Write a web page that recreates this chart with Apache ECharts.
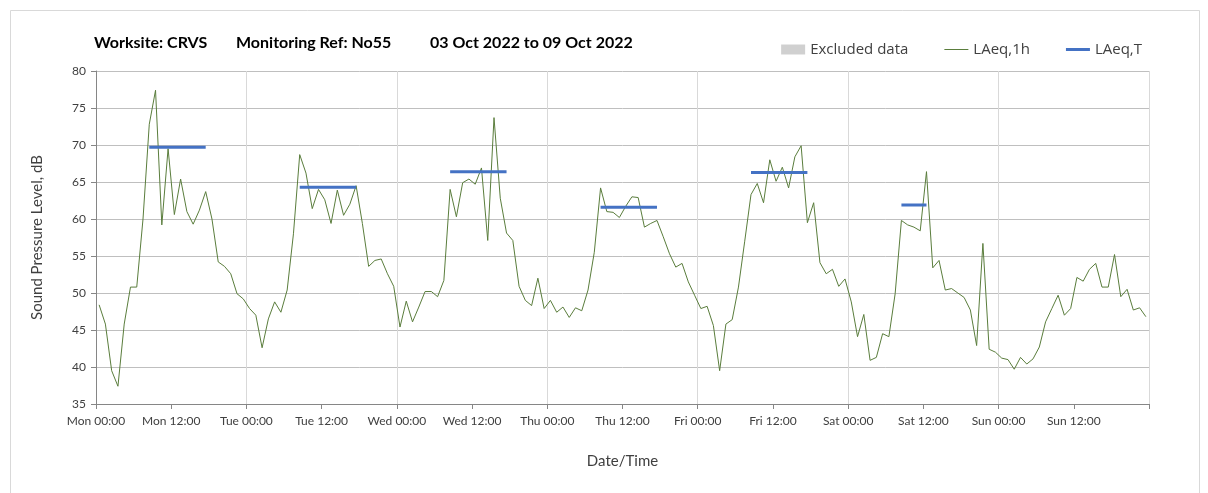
<!DOCTYPE html>
<html>
<head>
<meta charset="utf-8">
<script src="https://cdn.jsdelivr.net/npm/echarts@6/dist/echarts.min.js"></script>
<style>
  html, body { margin: 0; padding: 0; background: #fff; }
  #chart { width: 1208px; height: 493px; }
</style>
</head>
<body>
<div id="chart"></div>
<script>
// day names for the x axis (one week, hourly data)
const dayNames = ['Mon', 'Tue', 'Wed', 'Thu', 'Fri', 'Sat', 'Sun'];

// LAeq,1h values, one per hour from Mon 00:00 to Sun 23:00
const laeq1h = [
  // Mon
  48.4, 45.8, 39.5, 37.4, 45.8, 50.8, 50.8, 60.0, 72.8, 77.4, 59.2, 69.5,
  60.6, 65.4, 61.0, 59.3, 61.2, 63.7, 60.0, 54.2, 53.6, 52.6, 49.9, 49.2,
  // Tue
  47.9, 47.0, 42.6, 46.5, 48.8, 47.4, 50.4, 58.0, 68.7, 66.2, 61.4, 64.0,
  62.6, 59.4, 63.9, 60.5, 62.0, 64.5, 59.4, 53.6, 54.4, 54.6, 52.6, 50.9,
  // Wed
  45.4, 48.9, 46.1, 48.1, 50.2, 50.2, 49.5, 51.7, 64.0, 60.3, 64.9, 65.4,
  64.7, 66.9, 57.1, 73.7, 62.8, 58.1, 57.1, 50.9, 49.0, 48.3, 52.0, 47.9,
  // Thu
  49.0, 47.4, 48.1, 46.7, 48.0, 47.6, 50.4, 55.5, 64.2, 61.0, 60.9, 60.2,
  61.7, 63.0, 62.9, 58.9, 59.4, 59.8, 57.6, 55.3, 53.5, 54.0, 51.5, 49.7,
  // Fri
  47.9, 48.2, 45.6, 39.5, 45.8, 46.4, 50.8, 57.0, 63.3, 64.8, 62.2, 68.0,
  65.1, 67.0, 64.2, 68.4, 69.9, 59.5, 62.2, 54.1, 52.6, 53.2, 50.9, 51.9,
  // Sat
  48.8, 44.1, 47.1, 40.9, 41.3, 44.5, 44.1, 49.9, 59.8, 59.2, 58.9, 58.4,
  66.4, 53.4, 54.4, 50.4, 50.6, 50.0, 49.4, 47.7, 42.9, 56.7, 42.4, 42.0,
  // Sun
  41.2, 41.0, 39.7, 41.3, 40.4, 41.1, 42.7, 46.1, 47.9, 49.7, 47.0, 47.9,
  52.1, 51.6, 53.2, 54.0, 50.8, 50.8, 55.2, 49.5, 50.5, 47.7, 48.0, 46.8
];

// LAeq,T per working period (Mon..Sat), first and last hour of each period
const laeqT = [69.7, 64.3, 66.4, 61.6, 66.3, 61.9];
const periodStart = [8, 8, 8, 8, 8, 8];
const periodEnd = [17, 17, 17, 17, 17, 12];

const yTicks = { min: 35, max: 80, step: 5 };

const fontFamily = 'Lato, "Liberation Sans", sans-serif';
const textColor = '#404040';
const greenColor = '#5a7d3c';
const blueColor = '#4472C4';

// hourly values are plotted at the middle of their hour
const hourlyData = laeq1h.map((v, i) => [i + 0.5, v]);

const periodSeries = laeqT.map((v, d) => {
  const pts = [];
  for (let h = periodStart[d]; h <= periodEnd[d]; h++) {
    pts.push([d * 24 + h + 0.5, v]);
  }
  return {
    name: 'LAeq,T',
    type: 'line',
    data: pts,
    symbol: 'none',
    lineStyle: { color: blueColor, width: 3 },
    itemStyle: { color: blueColor },
    z: 5
  };
});

const chart = echarts.init(document.getElementById('chart'));

const option = {
  animation: false,
  backgroundColor: '#fff',
  textStyle: { fontFamily: fontFamily },
  title: [
    { text: 'Worksite: CRVS', left: 94, top: 35 },
    { text: 'Monitoring Ref: No55', left: 236, top: 35 },
    { text: '03 Oct 2022 to 09 Oct 2022', left: 430, top: 35 }
  ].map(t => Object.assign(t, {
    padding: 0,
    textStyle: { fontFamily: fontFamily, fontSize: 16, fontWeight: 'bold', color: '#000' }
  })),
  legend: {
    right: 61,
    top: 37,
    itemWidth: 24,
    itemHeight: 10,
    itemGap: 36,
    symbolKeepAspect: true,
    textStyle: { fontFamily: '"Open Sans", sans-serif', fontSize: 15, color: textColor },
    data: [
      { name: 'Excluded data', icon: 'rect' },
      { name: 'LAeq,1h', icon: 'path://M0,0L24,0L24,1L0,1Z' },
      { name: 'LAeq,T', icon: 'path://M0,0L24,0L24,3L0,3Z' }
    ]
  },
  graphic: [{
    type: 'rect',
    shape: { x: 10.5, y: 10.5, width: 1189, height: 490 },
    style: { fill: 'none', stroke: '#d9d9d9', lineWidth: 1 },
    silent: true
  }],
  grid: { left: 96, right: 59, top: 71, bottom: 89 },
  xAxis: [{
    type: 'value',
    min: 0,
    max: 168,
    interval: 12,
    name: 'Date/Time',
    nameLocation: 'middle',
    nameGap: 50,
    nameTextStyle: { fontFamily: fontFamily, fontSize: 15, color: textColor },
    axisLine: { lineStyle: { color: '#868686' } },
    axisTick: { show: true, length: 5, lineStyle: { color: '#868686' } },
    axisLabel: {
      fontFamily: fontFamily,
      fontSize: 12,
      color: textColor,
      margin: 11,
      formatter: v => v >= 168 ? '' : dayNames[Math.floor(v / 24)] + (v % 24 === 0 ? ' 00:00' : ' 12:00')
    },
    splitLine: { show: false }
  }, {
    type: 'value',
    min: 0,
    max: 168,
    interval: 24,
    position: 'bottom',
    axisLine: { show: false },
    axisTick: { show: false },
    axisLabel: { show: false },
    splitLine: { show: true, lineStyle: { color: '#d9d9d9' } }
  }],
  yAxis: {
    type: 'value',
    min: yTicks.min,
    max: yTicks.max,
    interval: yTicks.step,
    name: 'Sound Pressure Level, dB',
    nameLocation: 'middle',
    nameGap: 51,
    nameTextStyle: { fontFamily: fontFamily, fontSize: 15, color: textColor },
    axisLine: { show: true, lineStyle: { color: '#868686' } },
    axisTick: { show: true, length: 5, lineStyle: { color: '#868686' } },
    axisLabel: { fontFamily: fontFamily, fontSize: 12, color: textColor, margin: 10 },
    splitLine: { show: true, lineStyle: { color: '#bfbfbf' } }
  },
  series: [{
    name: 'Excluded data',
    type: 'line',
    data: [],
    symbol: 'none',
    itemStyle: { color: '#d0d0d0' },
    lineStyle: { color: '#d0d0d0' }
  }, {
    name: 'LAeq,1h',
    type: 'line',
    data: hourlyData,
    symbol: 'none',
    lineStyle: { color: greenColor, width: 1 },
    itemStyle: { color: greenColor },
    z: 3
  }].concat(periodSeries)
};

chart.setOption(option);
</script>
</body>
</html>
